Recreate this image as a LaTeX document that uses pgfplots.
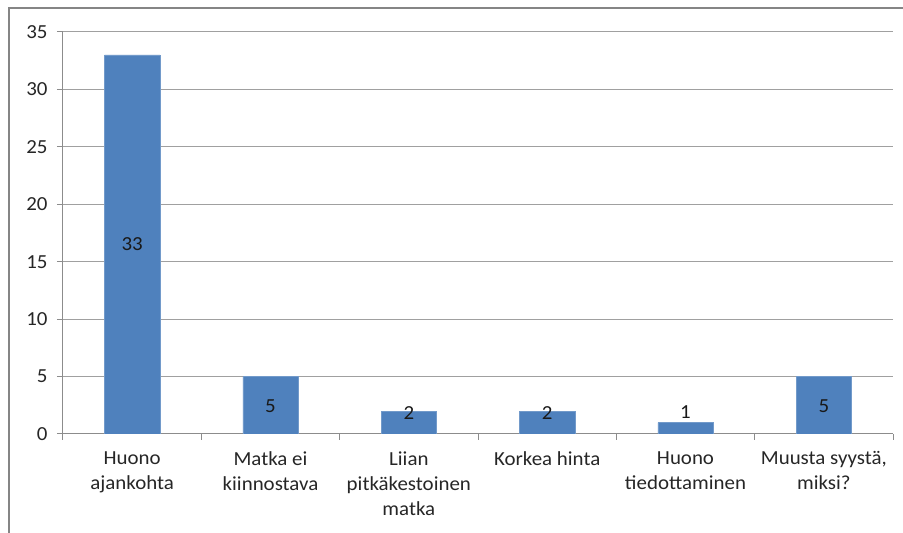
\documentclass[border=0pt]{standalone}
\usepackage{fontspec}
\setmainfont{Carlito}[FakeStretch=1.05]
\usepackage{pgfplots}
\usepackage{pgfplotstable}
\pgfplotsset{compat=1.18}
\definecolor{barblue}{HTML}{4F81BD}
\definecolor{gridgray}{HTML}{A0A0A0}
\definecolor{axgray}{HTML}{8C8C8C}
\definecolor{framegray}{HTML}{858585}
\pgfplotstableread{
x y
0 33
1 5
2 2
3 2
4 1
5 5
}\bars
\pgfplotstableread{
x ly v
0 16.5 33
1 2.4 5
2 1.85 2
3 1.85 2
4 1.9 1
5 2.4 5
}\labels
\begin{document}
\begin{tikzpicture}[x=1bp,y=1bp]
\useasboundingbox (-63,-99) rectangle (840,434);
\draw[framegray, line width=2bp] (-54,-110) -- (-54,426) -- (850,426);
\begin{axis}[
  at={(0,0)}, anchor=south west,
  width=830bp, height=402bp, scale only axis,
  xmin=-0.5, xmax=5.5, ymin=0, ymax=35,
  ytick={0,5,...,35},
  xtick={-0.5,0.5,...,5.5},
  x tick label as interval,
  xticklabels={{Huono\\ajankohta},{Matka ei\\kiinnostava},{Liian\\pitkäkestoinen\\matka},{Korkea hinta},{Huono\\tiedottaminen},{Muusta syystä,\\miksi?}},
  x tick label style={align=center, text=black!85, font=\fontsize{20}{25}\selectfont, yshift=-8bp},
  y tick label style={text=black!85, font=\fontsize{20}{24}\selectfont, xshift=-6bp},
  /pgf/number format/assume math mode=true,
  axis lines*=left,
  axis line style={axgray, line width=1bp},
  tick style={axgray, line width=1bp},
  tick align=outside,
  major tick length=6bp,
  ymajorgrids,
  grid style={gridgray, line width=1bp},
]
\addplot[ybar, bar width=0.4, fill=barblue, draw=barblue!80!white] table[x=x,y=y]{\bars};
\addplot[only marks, mark=none, draw=none,
  point meta=explicit symbolic,
  nodes near coords,
  nodes near coords align=center,
  every node near coord/.append style={anchor=center, text=black!90, font=\fontsize{20}{24}\selectfont}]
  table[x=x,y=ly,meta=v]{\labels};
\end{axis}
\end{tikzpicture}
\end{document}
